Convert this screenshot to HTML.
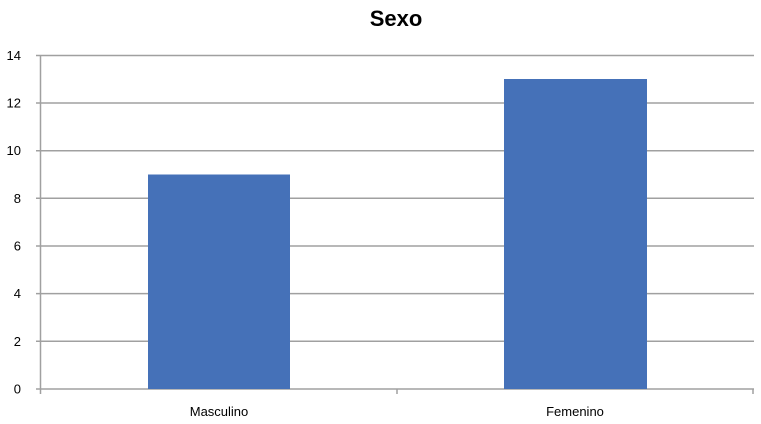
<!DOCTYPE html>
<html><head><style>
body{margin:0;background:#fff;}
svg{display:block;font-family:"Liberation Sans",Calibri,sans-serif;}
</style></head><body>
<svg width="761" height="424" viewBox="0 0 761 424" xmlns="http://www.w3.org/2000/svg">
<rect width="761" height="424" fill="#fff"/>
<text x="396" y="26" text-anchor="middle" font-size="22" font-weight="bold" fill="#000">Sexo</text>
<g stroke="#a0a0a0" stroke-width="1.5">
<line x1="36" y1="55.5" x2="754" y2="55.5"/>
<line x1="36" y1="103" x2="754" y2="103"/>
<line x1="36" y1="150.7" x2="754" y2="150.7"/>
<line x1="36" y1="198.3" x2="754" y2="198.3"/>
<line x1="36" y1="246" x2="754" y2="246"/>
<line x1="36" y1="293.6" x2="754" y2="293.6"/>
<line x1="36" y1="341.3" x2="754" y2="341.3"/>
<line x1="36" y1="389" x2="754" y2="389"/>
<line x1="40.5" y1="55.5" x2="40.5" y2="394"/>
<line x1="397" y1="389" x2="397" y2="394"/>
<line x1="753" y1="389" x2="753" y2="394"/>
</g>
<rect x="148" y="174.5" width="142" height="214.5" fill="#4571b8"/>
<rect x="504" y="79" width="143" height="310" fill="#4571b8"/>
<g font-size="13" fill="#000" text-anchor="end">
<text x="21" y="60">14</text>
<text x="21" y="107.5">12</text>
<text x="21" y="155">10</text>
<text x="21" y="203">8</text>
<text x="21" y="250.5">6</text>
<text x="21" y="298">4</text>
<text x="21" y="346">2</text>
<text x="21" y="393.5">0</text>
</g>
<g font-size="13" fill="#000" text-anchor="middle">
<text x="219" y="416">Masculino</text>
<text x="575" y="416">Femenino</text>
</g>
</svg>
</body></html>
